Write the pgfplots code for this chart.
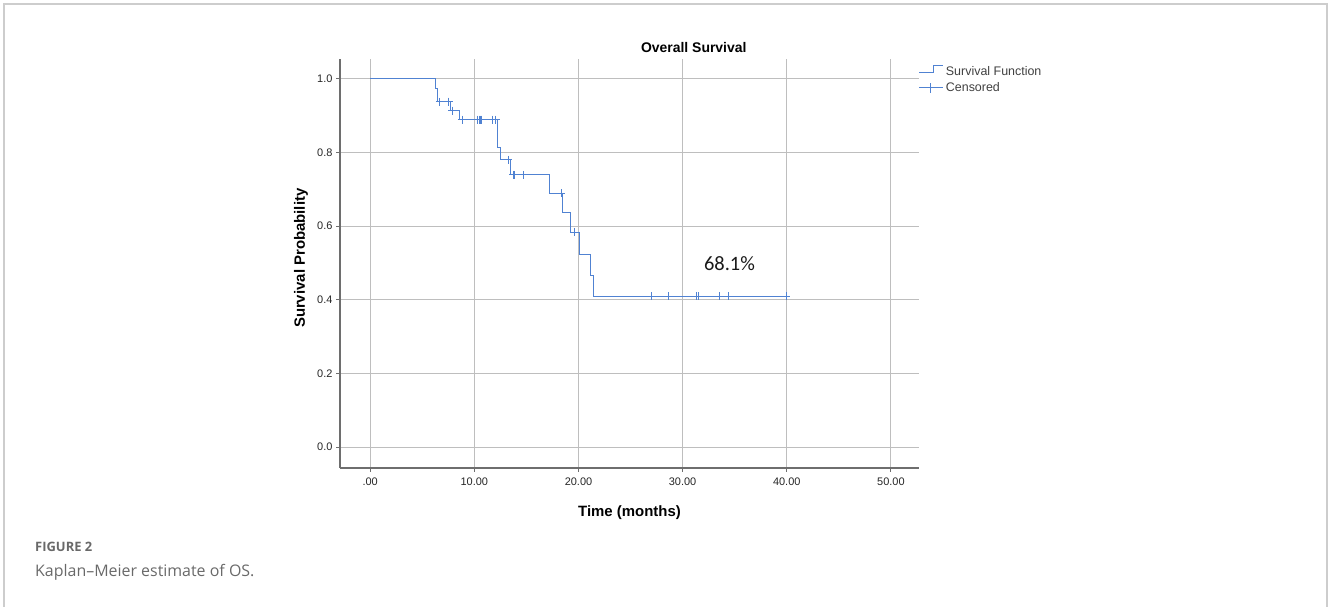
\documentclass[border=0pt]{standalone}
\usepackage{fontspec}
\setmainfont{Liberation Sans}
\newfontfamily\capfont{Open Sans}
\newfontfamily\calibfont{Carlito}
\usepackage{pgfplots}
\pgfplotsset{compat=1.18}
\definecolor{kmblue}{RGB}{80,130,210}
\definecolor{gridgray}{RGB}{190,190,190}
\definecolor{axisgray}{RGB}{110,110,110}
\definecolor{framegray}{RGB}{205,205,205}
\definecolor{capgray}{RGB}{105,105,105}

\pgfplotstableread{
t s
0 1.0
6.29 0.974
6.48 0.938
7.73 0.914
8.62 0.889
12.27 0.814
12.52 0.780
13.48 0.739
17.26 0.689
18.47 0.637
19.27 0.584
20.13 0.524
21.16 0.467
21.48 0.410
40.0 0.410
}\survival

\pgfplotstableread{
t s
6.70 0.938
7.56 0.938
7.89 0.914
8.85 0.889
10.35 0.889
10.45 0.889
10.55 0.889
10.70 0.889
11.73 0.889
12.04 0.889
13.26 0.780
13.74 0.739
13.90 0.739
14.70 0.739
18.35 0.689
19.65 0.584
27.00 0.410
28.68 0.410
31.33 0.410
31.55 0.410
33.54 0.410
34.43 0.410
39.97 0.410
}\censored

\begin{document}
\begin{tikzpicture}
\begin{axis}[
  at={(340bp,139bp)}, anchor=south west,
  scale only axis, width=579bp, height=409bp,
  xmin=-2.9, xmax=52.7, ymin=-0.057, ymax=1.054,
  axis lines=left,
  axis line style={-, axisgray, line width=1.3bp},
  grid=major,
  major grid style={gridgray, line width=0.8bp},
  xtick={0,10,20,30,40,50},
  xticklabels={.00,10.00,20.00,30.00,40.00,50.00},
  ytick={0,0.2,0.4,0.6,0.8,1.0},
  yticklabels={0.0,0.2,0.4,0.6,0.8,1.0},
  tick align=outside, major tick length=4bp,
  tick style={axisgray, line width=0.8bp},
  ticklabel style={font=\fontsize{11}{13}\selectfont, text=black!85},
  xticklabel style={yshift=-2bp},
  every axis title shift=0pt,
  title={Overall Survival},
  title style={font=\bfseries\fontsize{14}{16}\selectfont, at={(axis description cs:0.611,1.027)}, anchor=center},
  xlabel={Time (months)},
  xlabel style={font=\bfseries\fontsize{15}{17}\selectfont, at={(axis description cs:0.5,-0.11)}, anchor=center},
  ylabel={Survival Probability},
  ylabel style={font=\bfseries\fontsize{15}{17}\selectfont, at={(axis description cs:-0.0674,0.513)}, anchor=center},
  legend style={at={(axis description cs:1.0,0.985)}, anchor=north west, draw=none, fill=none,
    inner sep=0pt, outer sep=0pt, font=\fontsize{12.5}{14}\selectfont, text=black!75,
    row sep=2.5bp, column sep=1bp, nodes={inner sep=1bp, text height=9bp, text depth=2.5bp}},
  legend cell align=left,
]
\addlegendimage{legend image code/.code={\draw[kmblue, line width=0.9bp] (0bp,-1bp) -- (14bp,-1bp) -- (14bp,6bp) -- (24bp,6bp);}}
\addlegendentry{Survival Function}
\addlegendimage{legend image code/.code={\draw[kmblue, line width=0.9bp] (0bp,0bp) -- (24bp,0bp); \draw[kmblue, line width=0.9bp] (11bp,-5bp) -- (11bp,5bp);}}
\addlegendentry{Censored}
\addplot[forget plot, const plot mark left, kmblue, line width=1bp] table[x=t,y=s] {\survival};
\addplot[forget plot, only marks, mark=+, mark size=4bp, kmblue, mark options={line width=1bp}] table[x=t,y=s] {\censored};
\node[font=\calibfont\fontsize{20.5}{22}\selectfont, text=black!90] at (axis cs:34.5,0.497) {68.1\%};
\end{axis}
\draw[framegray, line width=1.5bp] (4bp,0bp) -- (4bp,603bp) -- (1327bp,603bp) -- (1327bp,0bp);
\node[anchor=base west, inner sep=0pt, font=\capfont\bfseries\fontsize{13}{15}\selectfont, text=capgray] at (35bp,55bp) {FIGURE 2};
\node[anchor=base west, inner sep=0pt, font=\capfont\fontsize{16}{18}\selectfont, text=capgray] at (35bp,31bp) {Kaplan–Meier estimate of OS.};
\pgfresetboundingbox
\path[use as bounding box] (0bp,0bp) rectangle (1328bp,607bp);
\end{tikzpicture}
\end{document}
